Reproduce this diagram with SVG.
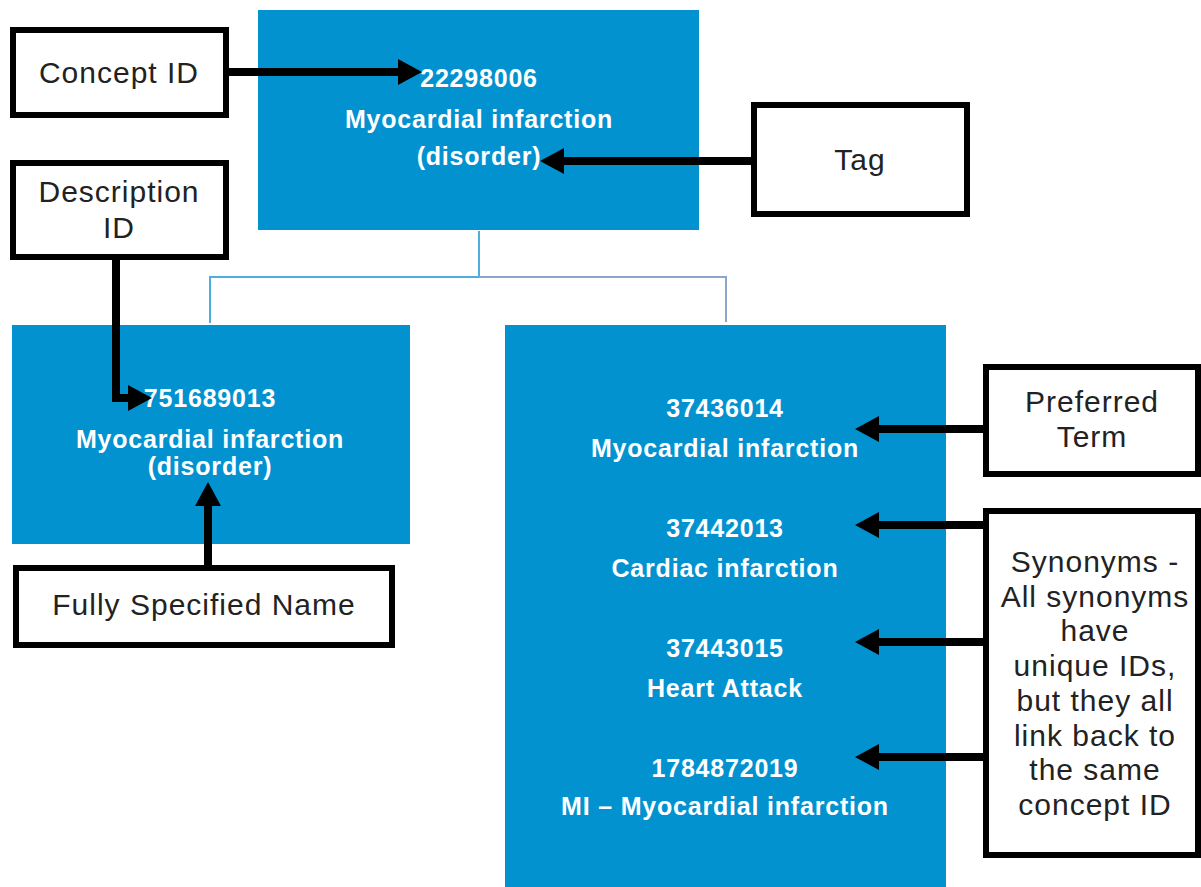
<svg xmlns="http://www.w3.org/2000/svg" width="1201" height="887" viewBox="0 0 1201 887">
<style>
.blue{fill:#0392d0}
.lbl{fill:#fff;stroke:#000;stroke-width:6}
.wt{font-family:"Liberation Sans",Arial,sans-serif;font-weight:bold;font-size:25px;fill:#fff;text-anchor:middle;letter-spacing:0.8px}
.bt{font-family:"Liberation Sans",Arial,sans-serif;font-size:30px;fill:#222;text-anchor:middle;letter-spacing:1px}
.arr{fill:none;stroke:#000;stroke-width:8;marker-end:url(#ah)}
.tree{fill:none;stroke-width:2}
</style>
<defs>
<marker id="ah" viewBox="0 0 24 26" refX="0" refY="13" markerWidth="24" markerHeight="26" markerUnits="userSpaceOnUse" orient="auto">
<path d="M0,0 L24,13 L0,26 Z" fill="#000"/>
</marker>
</defs>
<rect width="1201" height="887" fill="#fff"/>
<g id="tree-lines">
<path class="tree" stroke="#4eaee0" d="M479,231 V277 M479,277 H210 V323"/>
<path class="tree" stroke="#8aa6c8" d="M479,277 H726 V322"/>
</g>
<g id="concept">
<rect class="blue" x="258" y="10" width="441" height="220"/>
<text class="wt" x="479" y="87">22298006</text>
<text class="wt" x="479" y="128">Myocardial infarction</text>
<text class="wt" x="479" y="165">(disorder)</text>
</g>
<g id="fsn">
<rect class="blue" x="12" y="325" width="398" height="219"/>
<text class="wt" x="210" y="407">751689013</text>
<text class="wt" x="210" y="448">Myocardial infarction</text>
<text class="wt" x="210" y="475">(disorder)</text>
</g>
<g id="terms">
<rect class="blue" x="505" y="325" width="441" height="562"/>
<text class="wt" x="725" y="417">37436014</text>
<text class="wt" x="725" y="457">Myocardial infarction</text>
<text class="wt" x="725" y="537">37442013</text>
<text class="wt" x="725" y="577">Cardiac infarction</text>
<text class="wt" x="725" y="657">37443015</text>
<text class="wt" x="725" y="697">Heart Attack</text>
<text class="wt" x="725" y="777">1784872019</text>
<text class="wt" x="725" y="815">MI – Myocardial infarction</text>
</g>
<g id="label-concept-id">
<rect class="lbl" x="13" y="30" width="213" height="85"/>
<text class="bt" x="119" y="83">Concept ID</text>
</g>
<g id="label-description-id">
<rect class="lbl" x="13" y="163" width="213" height="94"/>
<text class="bt" x="119" y="202">Description</text>
<text class="bt" x="119" y="238">ID</text>
</g>
<g id="label-tag">
<rect class="lbl" x="754" y="105" width="213" height="109"/>
<text class="bt" x="860" y="170">Tag</text>
</g>
<g id="label-fsn">
<rect class="lbl" x="16" y="568" width="376" height="77"/>
<text class="bt" x="204" y="615">Fully Specified Name</text>
</g>
<g id="label-preferred">
<rect class="lbl" x="986" y="367" width="212" height="107"/>
<text class="bt" x="1092" y="412">Preferred</text>
<text class="bt" x="1092" y="447">Term</text>
</g>
<g id="label-synonyms">
<rect class="lbl" x="986" y="511" width="212" height="344"/>
<text class="bt" x="1095" y="572">Synonyms -</text>
<text class="bt" x="1095" y="607">All synonyms</text>
<text class="bt" x="1095" y="641">have</text>
<text class="bt" x="1095" y="676">unique IDs,</text>
<text class="bt" x="1095" y="711">but they all</text>
<text class="bt" x="1095" y="746">link back to</text>
<text class="bt" x="1095" y="780">the same</text>
<text class="bt" x="1095" y="815">concept ID</text>
</g>
<g id="connectors">
<path class="arr" d="M229,72 H398"/>
<path class="arr" d="M751,161 H564"/>
<path class="arr" d="M116,260 V398 H128"/>
<path class="arr" d="M208,565 V506"/>
<path class="arr" d="M983,429 H879"/>
<path class="arr" d="M983,525 H879"/>
<path class="arr" d="M983,642 H879"/>
<path class="arr" d="M983,757 H879"/>
</g>
</svg>
